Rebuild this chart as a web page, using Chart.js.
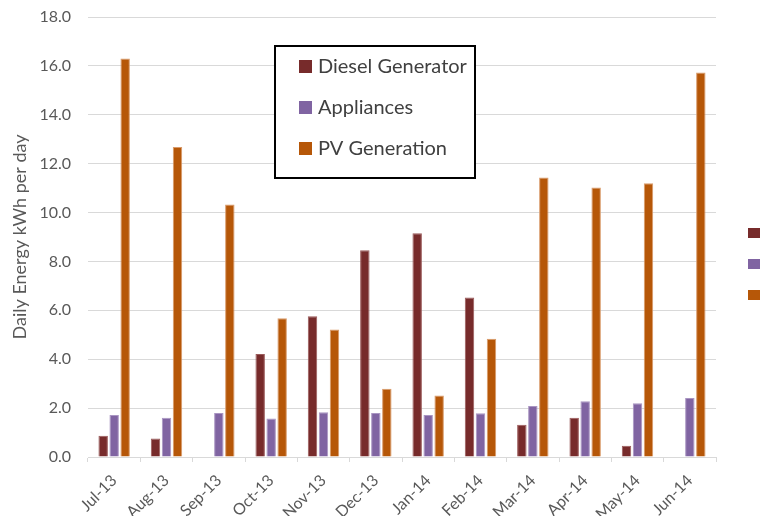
<!DOCTYPE html>
<html>
<head>
<meta charset="utf-8">
<script src="https://cdn.jsdelivr.net/npm/chart.js@4"></script>
<style>
  html, body { margin: 0; padding: 0; background: #ffffff; }
  #wrap { width: 768px; height: 516px; position: relative; }
</style>
</head>
<body>
<div id="wrap"><canvas id="c" width="768" height="516"></canvas></div>
<script>
// Monthly average daily energy (kWh per day)
const months = ['Jul-13', 'Aug-13', 'Sep-13', 'Oct-13', 'Nov-13', 'Dec-13',
                'Jan-14', 'Feb-14', 'Mar-14', 'Apr-14', 'May-14', 'Jun-14'];
const dieselGenerator = [0.87, 0.76, null, 4.21, 5.76, 8.46, 9.15, 6.53, 1.32, 1.61, 0.46, null];
const appliances      = [1.72, 1.61, 1.80, 1.57, 1.83, 1.80, 1.72, 1.79, 2.09, 2.28, 2.20, 2.41];
const pvGeneration    = [16.30, 12.68, 10.33, 5.68, 5.22, 2.79, 2.52, 4.84, 11.43, 11.03, 11.20, 15.73];
const yTicks = [0, 2, 4, 6, 8, 10, 12, 14, 16, 18];

const FONT = 'Lato, "Liberation Sans", sans-serif';
const GRID = '#d9d9d9';
const TEXT = '#595959';

// Boxed legend drawn over the plot area, plus a second clipped key at the right edge
const boxLegend = {
  id: 'boxLegend',
  afterDraw(chart) {
    const ctx = chart.ctx;
    const ds = chart.data.datasets;
    ctx.save();
    ctx.fillStyle = '#ffffff';
    ctx.fillRect(275, 46, 200, 132);
    ctx.strokeStyle = '#000000';
    ctx.lineWidth = 2;
    ctx.strokeRect(275, 46, 200, 132);
    ctx.font = '20px ' + FONT;
    ctx.textBaseline = 'middle';
    ctx.textAlign = 'left';
    const rows = [66, 107, 148];
    ds.forEach((d, i) => {
      ctx.fillStyle = d.backgroundColor;
      ctx.fillRect(299, rows[i] - 6, 13, 13);
      ctx.fillStyle = '#404040';
      ctx.fillText(d.label, 318, rows[i] + 1);
    });
    const side = [228, 259, 290];
    ds.forEach((d, i) => {
      ctx.fillStyle = d.backgroundColor;
      ctx.fillRect(748, side[i], 12, 10);
    });
    ctx.restore();
  }
};

new Chart(document.getElementById('c'), {
  type: 'bar',
  data: {
    labels: months,
    datasets: [
      { label: 'Diesel Generator', data: dieselGenerator, backgroundColor: '#772B2B', borderColor: '#9a5a5a', borderWidth: 1 },
      { label: 'Appliances', data: appliances, backgroundColor: '#8064A2', borderColor: '#a995c2', borderWidth: 1 },
      { label: 'PV Generation', data: pvGeneration, backgroundColor: '#B65708', borderColor: '#d99a6a', borderWidth: 1 }
    ]
  },
  options: {
    responsive: false,
    animation: false,
    devicePixelRatio: 1,
    layout: { padding: { top: 17, right: 52, left: 0, bottom: 0 } },
    datasets: { bar: { categoryPercentage: 0.63, barPercentage: 0.86 } },
    plugins: {
      legend: { display: false },
      tooltip: { enabled: false }
    },
    scales: {
      x: {
        grid: { display: true, drawOnChartArea: false, drawTicks: true, tickLength: 5, color: GRID, offset: true },
        border: { display: true, color: GRID },
        ticks: {
          minRotation: 45, maxRotation: 45, autoSkip: false,
          color: TEXT, font: { family: FONT, size: 16 }, padding: 9
        },
        afterFit(scale) { scale.height = 59; }
      },
      y: {
        min: 0, max: 18,
        afterBuildTicks(scale) { scale.ticks = yTicks.map(v => ({ value: v })); },
        grid: { color: GRID, drawTicks: false, lineWidth: 1 },
        border: { display: false },
        ticks: {
          color: TEXT, font: { family: FONT, size: 16 }, padding: 17,
          callback: v => Number(v).toFixed(1)
        },
        title: {
          display: true, text: 'Daily Energy kWh per day',
          color: TEXT, font: { family: FONT, size: 18 }, padding: { top: 9, bottom: 0 }
        },
        afterFit(scale) {
          scale.width = 88;
          scale.paddingTop = 0;
          scale.paddingBottom = 0;
        }
      }
    }
  },
  plugins: [boxLegend]
});
</script>
</body>
</html>
